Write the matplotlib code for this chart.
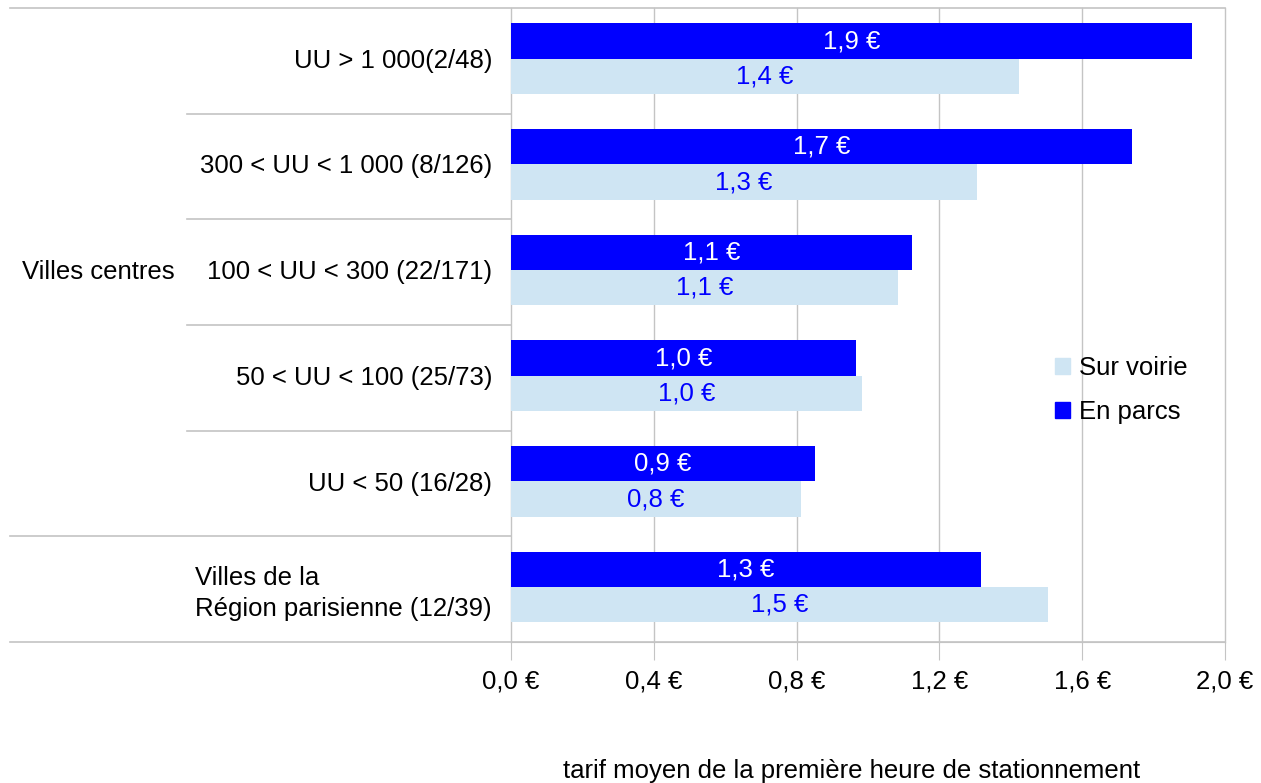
import matplotlib
matplotlib.use("Agg")
import matplotlib.pyplot as plt
from matplotlib.patches import Patch
from matplotlib.transforms import blended_transform_factory

# Data
categories = [
    "UU > 1 000(2/48)",
    "300 < UU < 1 000 (8/126)",
    "100 < UU < 300 (22/171)",
    "50 < UU < 100 (25/73)",
    "UU < 50 (16/28)",
    "Villes de la\nRégion parisienne (12/39)",
]
groups = ["Villes centres", ""]
group_sizes = [5, 1]
en_parcs = [1.907, 1.739, 1.123, 0.966, 0.852, 1.317]
sur_voirie = [1.423, 1.305, 1.084, 0.983, 0.812, 1.504]
xticks = [0.0, 0.4, 0.8, 1.2, 1.6, 2.0]
xlabel = "tarif moyen de la première heure de stationnement"

DARK = "#0000FF"
LIGHT = "#CFE5F3"
GRID = "#C4C4C4"
FS = 18.5

plt.rcParams["font.family"] = ["Liberation Sans", "DejaVu Sans"]

W, H = 1261, 783
fig = plt.figure(figsize=(W / 100, H / 100), dpi=100)
ax = fig.add_axes([511 / W, (H - 642) / H, 714 / W, 634 / H])

n = len(categories)
ys = list(range(n))
bh = 0.335
off = -0.02
ax.barh([y - bh / 2 + off for y in ys], en_parcs, height=bh, color=DARK, zorder=3)
ax.barh([y + bh / 2 + off for y in ys], sur_voirie, height=bh, color=LIGHT, zorder=3)

def euro(v):
    return f"{v:.1f}".replace(".", ",") + " €"

for y, v in zip(ys, en_parcs):
    ax.text(v / 2, y - bh / 2 + off, euro(v), ha="center", va="center",
            color="white", fontsize=FS, zorder=4)
for y, v in zip(ys, sur_voirie):
    ax.text(v / 2, y + bh / 2 + off, euro(v), ha="center", va="center",
            color=DARK, fontsize=FS, zorder=4)

ax.set_xlim(0, 2.0)
ax.set_ylim(n - 0.5, -0.5)
ax.set_xticks(xticks)
ax.set_xticklabels([euro(t) for t in xticks], fontsize=FS)
ax.set_yticks([])
ax.tick_params(axis="x", length=13, color=GRID, pad=7)
for t in xticks:
    ax.axvline(t, color=GRID, lw=1, zorder=1, clip_on=False)
for s in ax.spines.values():
    s.set_visible(False)
ax.spines["bottom"].set_visible(True)
ax.spines["bottom"].set_color(GRID)

# Two-level category axis
tr = blended_transform_factory(ax.transAxes, ax.transData)
x_outer = (10 - 511) / 714
x_inner = (187 - 511) / 714
x_lab = (492 - 511) / 714
line_kw = dict(color=GRID, lw=1.2, clip_on=False, transform=tr)
ax.plot([x_outer, 1], [-0.5, -0.5], **line_kw)
ax.plot([x_outer, 1], [n - 0.5, n - 0.5], **line_kw)
start = 0
for size in group_sizes:
    for k in range(1, size):
        yb = start + k - 0.5
        ax.plot([x_inner, 0], [yb, yb], **line_kw)
    start += size
    if start < n:
        ax.plot([x_outer, 0], [start - 0.5, start - 0.5], **line_kw)

for y, c in zip(ys, categories):
    yy = y + (0.04 if "\n" in c else 0)
    ax.text(x_lab, yy, c, transform=tr, ha="right", va="center",
            multialignment="left", fontsize=FS, linespacing=1.38)

start = 0
for g, size in zip(groups, group_sizes):
    if g:
        ax.text((22 - 511) / 714, start + (size - 1) / 2, g, transform=tr,
                ha="left", va="center", fontsize=FS)
    start += size

handles = [Patch(color=LIGHT, label="Sur voirie"),
           Patch(color=DARK, label="En parcs")]
fig.legend(handles=handles, loc="center left",
           bbox_to_anchor=(1055 / W, 1 - 390 / H), frameon=False,
           fontsize=FS, handlelength=0.6, handleheight=0.6,
           handletextpad=0.35, labelspacing=0.78,
           borderpad=0, borderaxespad=0)

fig.text(852 / W, 1 - 771 / H, xlabel, ha="center", va="center",
         fontsize=FS)

fig.savefig("out.png", dpi=100)
